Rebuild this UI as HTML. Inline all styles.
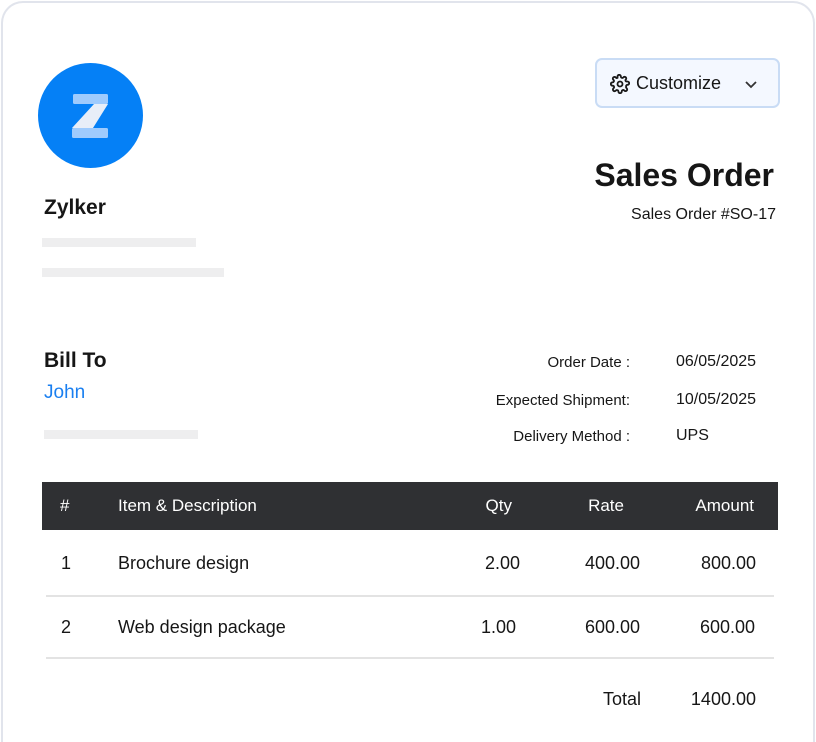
<!DOCTYPE html>
<html><head><meta charset="utf-8"><style>
*{margin:0;padding:0;box-sizing:border-box}
html,body{width:816px;height:742px;overflow:hidden}
body{background:#fff;font-family:"Liberation Sans",sans-serif;color:#161616;position:relative}
.card{position:absolute;left:1px;top:1px;width:814px;height:741px;border:2px solid #e1e4ec;border-bottom:none;border-radius:22px 22px 0 0}
.a{position:absolute;white-space:nowrap}
.bar{position:absolute;background:#eeeeef;height:9px}
.r{text-align:right}
</style></head><body>
<div class="card"></div>
<svg class="a" style="left:38px;top:63px" width="105" height="105" viewBox="0 0 105 105">
<circle cx="52.5" cy="52.5" r="52.5" fill="#0580f6"/>
<rect x="35" y="31" width="35" height="10" rx="1.5" fill="#9fcbfd"/>
<rect x="34" y="65" width="36" height="10" rx="1.5" fill="#9fcbfd"/>
<polygon points="56,41 70,41 55,65 34,65" fill="#e8eef8"/>
</svg>
<div class="a" style="left:44px;top:196px;font-size:21px;font-weight:bold">Zylker</div>
<div class="bar" style="left:42px;top:238px;width:154px"></div>
<div class="bar" style="left:42px;top:268px;width:182px"></div>
<div class="a" style="left:595px;top:58px;width:185px;height:50px;border:2px solid #c9dcf5;background:#f4f8ff;border-radius:7px"></div>
<svg class="a" style="left:610px;top:74px" width="20" height="20" viewBox="0 0 24 24" fill="none" stroke="#1a1a1a" stroke-width="2.2"><circle cx="12" cy="12" r="3"/><path d="M19.4 15a1.7 1.7 0 0 0 .3 1.8l.1.1a2 2 0 1 1-2.8 2.8l-.1-.1a1.7 1.7 0 0 0-2.8 1.2V21a2 2 0 1 1-4 0v-.1A1.7 1.7 0 0 0 9 19.4a1.7 1.7 0 0 0-1.8.3l-.1.1a2 2 0 1 1-2.8-2.8l.1-.1A1.7 1.7 0 0 0 3.2 14H3a2 2 0 1 1 0-4h.1A1.7 1.7 0 0 0 4.6 9a1.7 1.7 0 0 0-.3-1.8l-.1-.1a2 2 0 1 1 2.8-2.8l.1.1A1.7 1.7 0 0 0 9 4.6V3a2 2 0 1 1 4 0v.1a1.7 1.7 0 0 0 2.8 1.2l.1-.1a2 2 0 1 1 2.8 2.8l-.1.1A1.7 1.7 0 0 0 19.4 9H21a2 2 0 1 1 0 4h-.1a1.7 1.7 0 0 0-1.5 1z"/></svg>
<div class="a" style="left:636px;top:73px;font-size:18px">Customize</div>
<svg class="a" style="left:744px;top:80px" width="14" height="10" viewBox="0 0 14 10"><path d="M2 2l5 5 5-5" stroke="#333" stroke-width="1.8" fill="none"/></svg>
<div class="a r" style="right:42px;top:157px;font-size:32px;font-weight:bold">Sales Order</div>
<div class="a r" style="right:40px;top:206px;font-size:16px">Sales Order #SO-17</div>
<div class="a" style="left:44px;top:349px;font-size:21px;font-weight:bold">Bill To</div>
<div class="a" style="left:44px;top:382px;font-size:19px;color:#1a7ff0">John</div>
<div class="bar" style="left:44px;top:430px;width:154px"></div>
<div class="a r" style="right:186px;top:354px;font-size:15px">Order Date :</div>
<div class="a r" style="right:186px;top:392px;font-size:15px">Expected Shipment:</div>
<div class="a r" style="right:186px;top:428px;font-size:15px">Delivery Method :</div>
<div class="a" style="left:676px;top:353px;font-size:16px">06/05/2025</div>
<div class="a" style="left:676px;top:391px;font-size:16px">10/05/2025</div>
<div class="a" style="left:676px;top:427px;font-size:16px">UPS</div>
<div class="a" style="left:42px;top:482px;width:736px;height:48px;background:#2f3033"></div>
<div class="a" style="left:60px;top:496px;font-size:17px;color:#fff">#</div>
<div class="a" style="left:118px;top:496px;font-size:17px;color:#fff">Item &amp; Description</div>
<div class="a r" style="right:304px;top:496px;font-size:17px;color:#fff">Qty</div>
<div class="a r" style="right:192px;top:496px;font-size:17px;color:#fff">Rate</div>
<div class="a r" style="right:62px;top:496px;font-size:17px;color:#fff">Amount</div>
<div class="a" style="left:61px;top:553px;font-size:18px">1</div>
<div class="a" style="left:118px;top:553px;font-size:18px">Brochure design</div>
<div class="a r" style="right:296px;top:553px;font-size:18px">2.00</div>
<div class="a r" style="right:176px;top:553px;font-size:18px">400.00</div>
<div class="a r" style="right:60px;top:553px;font-size:18px">800.00</div>
<div class="a" style="left:46px;top:595px;width:728px;height:2px;background:#e3e3e3"></div>
<div class="a" style="left:61px;top:617px;font-size:18px">2</div>
<div class="a" style="left:118px;top:617px;font-size:18px">Web design package</div>
<div class="a r" style="right:300px;top:617px;font-size:18px">1.00</div>
<div class="a r" style="right:176px;top:617px;font-size:18px">600.00</div>
<div class="a r" style="right:61px;top:617px;font-size:18px">600.00</div>
<div class="a" style="left:46px;top:657px;width:728px;height:2px;background:#e3e3e3"></div>
<div class="a r" style="right:175px;top:689px;font-size:18px">Total</div>
<div class="a r" style="right:60px;top:689px;font-size:18px">1400.00</div>
</body></html>
